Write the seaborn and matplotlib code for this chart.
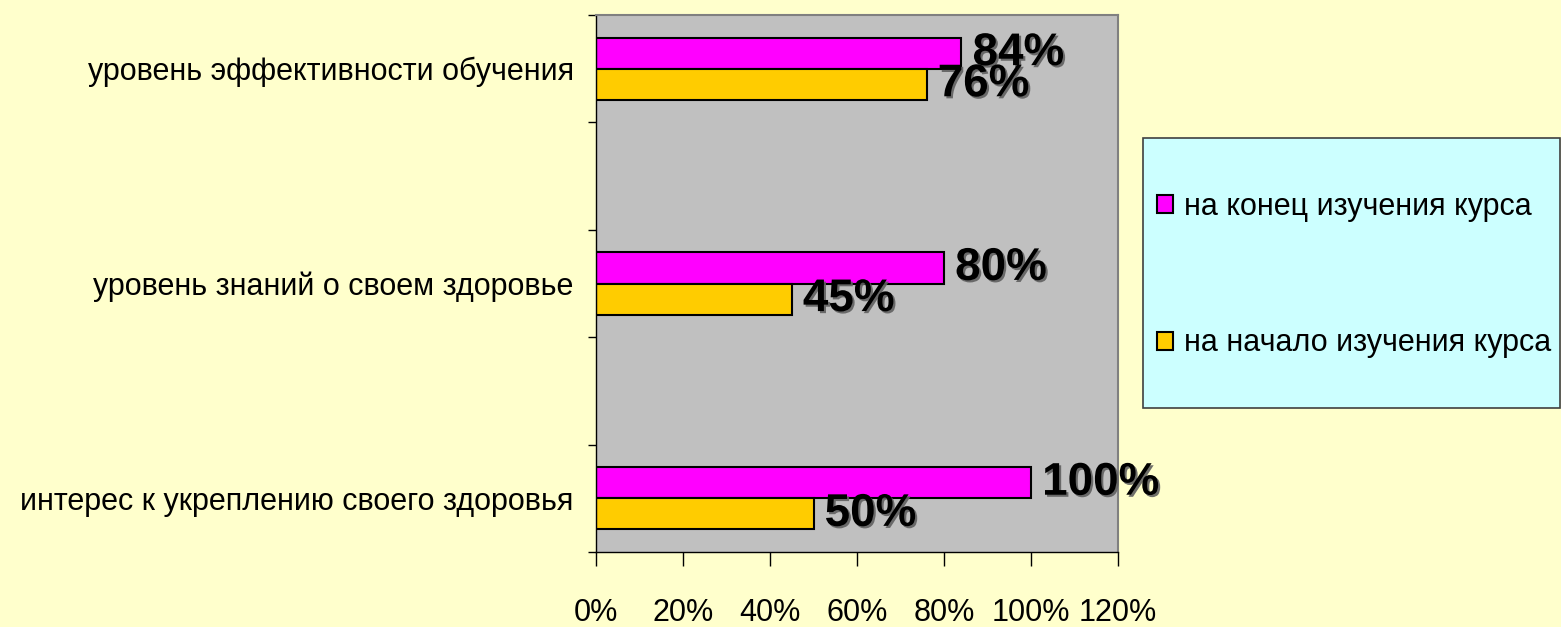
import pandas as pd
import seaborn as sns
import matplotlib.pyplot as plt
import matplotlib.patheffects as pe
from matplotlib.patches import Patch, Rectangle
from matplotlib.ticker import FixedLocator

categories = ["уровень эффективности обучения",
              "уровень знаний о своем здоровье",
              "интерес к укреплению своего здоровья"]
series_names = ["на конец изучения курса", "на начало изучения курса"]
end_values = [84, 80, 100]
start_values = [76, 45, 50]
x_ticks = [0, 20, 40, 60, 80, 100, 120]
colors = ["#FF00FF", "#FFCC00"]

df = pd.DataFrame({
    "category": categories * 2,
    "series": [series_names[0]] * 3 + [series_names[1]] * 3,
    "value": end_values + start_values,
})

# excel-like layout: empty slots between the groups
order = [categories[0], " ", categories[1], "  ", categories[2]]

sns.set_style("white", {"text.color": "black", "xtick.color": "black",
                        "ytick.color": "black", "axes.labelcolor": "black"})
plt.rcParams["font.family"] = ["Liberation Sans", "DejaVu Sans"]

fig = plt.figure(figsize=(15.61, 6.27), dpi=100, facecolor="#FFFFCC")
ax = fig.add_axes([596 / 1561, 1 - 552 / 627, (1118 - 596) / 1561, (552 - 15) / 627])
ax.set_facecolor("#C0C0C0")

sns.barplot(data=df, y="category", x="value", hue="series", order=order,
            hue_order=series_names, palette=colors, orient="h", width=0.58,
            saturation=1, edgecolor="black", linewidth=1.5, ax=ax, legend=False)

shadow = [pe.withSimplePatchShadow(offset=(1.5, -1.5), shadow_rgbFace="#606060", alpha=0.9)]
for c in ax.containers:
    labels = ["" if pd.isna(v) else f"{v:.0f}%" for v in c.datavalues]
    ax.bar_label(c, labels=labels, padding=8, fontsize=33, fontweight="bold",
                 color="black", path_effects=shadow)

ax.set_xlim(0, 120)
ax.set_xticks(x_ticks)
ax.set_xticklabels([f"{t}%" for t in x_ticks])
ax.tick_params(axis="x", direction="out", length=10, width=1, pad=23,
               labelsize=22, bottom=True)

ax.set_ylim(4.5, -0.5)
ax.set_yticks([0, 2, 4])
ax.set_yticklabels(categories)
ax.yaxis.set_minor_locator(FixedLocator([-0.5, 0.5, 1.5, 2.5, 3.5, 4.5]))
ax.tick_params(axis="y", which="major", length=0, pad=16, labelsize=22)
ax.tick_params(axis="y", which="minor", direction="out", length=6, width=1, left=True)
ax.set_xlabel("")
ax.set_ylabel("")

for s in ["left", "bottom"]:
    ax.spines[s].set_color("black")
    ax.spines[s].set_linewidth(1)
for s in ["top", "right"]:
    ax.spines[s].set_color("#808080")
    ax.spines[s].set_linewidth(1.5)

# legend box
fig.patches.append(Rectangle((1143 / 1561, 1 - 408 / 627), 417 / 1561, 270 / 627,
                             transform=fig.transFigure, facecolor="#CCFFFF",
                             edgecolor="#404040", linewidth=1.2, zorder=0))
handles = [Patch(facecolor=col, edgecolor="black", linewidth=1.5) for col in colors]
fig.legend(handles, series_names, loc="center left",
           bbox_to_anchor=(1157 / 1561, 1 - 275 / 627), frameon=False,
           fontsize=22, labelspacing=3.5, handlelength=0.52, handleheight=0.52,
           handletextpad=0.35, borderpad=0, borderaxespad=0)

fig.savefig("out.png", dpi=100, facecolor=fig.get_facecolor())
